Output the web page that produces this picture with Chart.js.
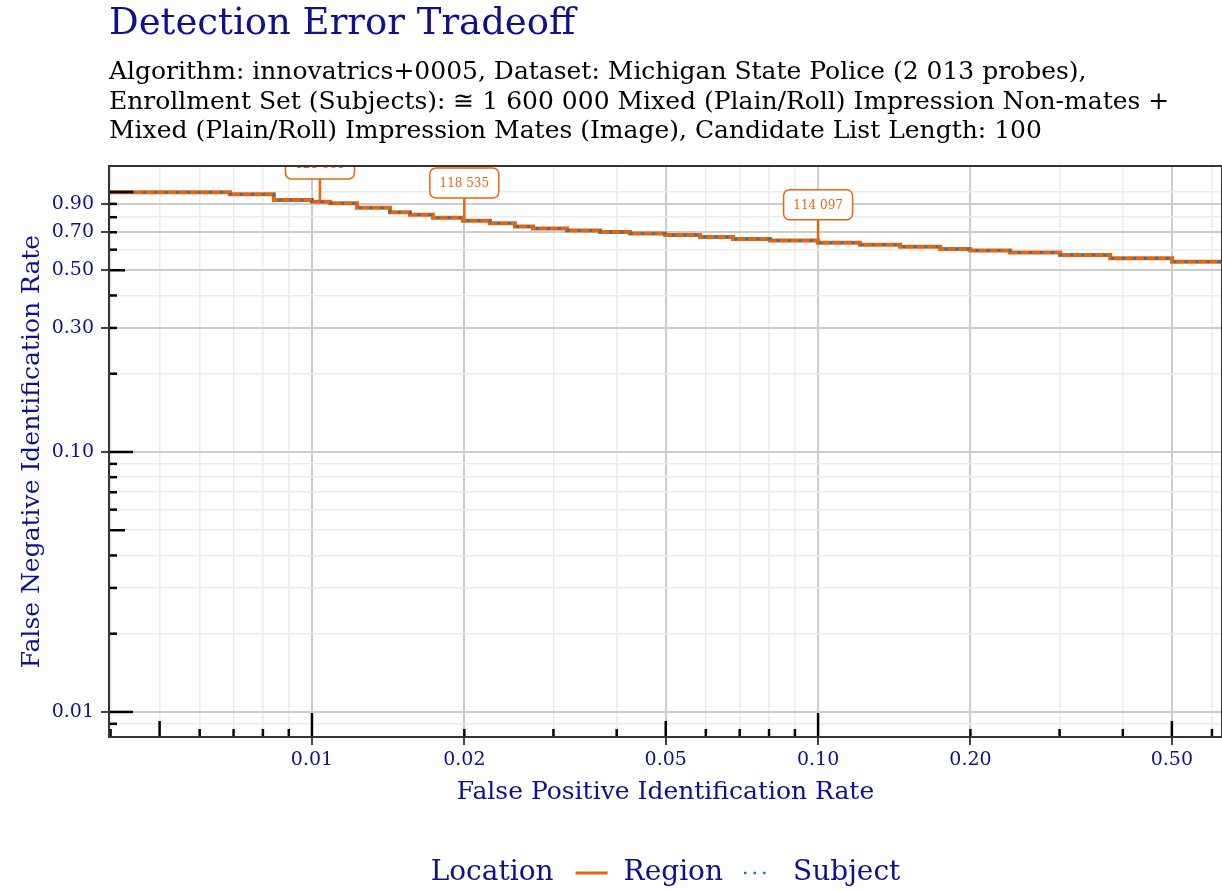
<!DOCTYPE html>
<html>
<head>
<meta charset="utf-8">
<script src="https://cdn.jsdelivr.net/npm/chart.js@4.4.1/dist/chart.umd.min.js"></script>
<style>
  body { margin: 0; background: #fff; }
  #wrap { width: 1222px; height: 892px; }
</style>
</head>
<body>
<div id="wrap"><canvas id="chart" width="1222" height="892"></canvas></div>
<script>
// DET curve (FPIR on x, FNIR on y)
const fpir = [0.00399, 0.00689, 0.00841, 0.0100, 0.01085, 0.01227, 0.01426, 0.01562, 0.01734, 0.01988,
              0.02247, 0.02518, 0.02734, 0.03191, 0.03709, 0.04252, 0.04985, 0.05846, 0.06792, 0.08038,
              0.1000, 0.1210, 0.1452, 0.1742, 0.1997, 0.2395, 0.3008, 0.3777, 0.5006, 0.6287];
const fnir = [0.997, 0.980, 0.932, 0.918, 0.905, 0.870, 0.836, 0.818, 0.796, 0.776,
              0.758, 0.737, 0.724, 0.711, 0.702, 0.692, 0.683, 0.671, 0.660, 0.651,
              0.638, 0.627, 0.616, 0.604, 0.595, 0.585, 0.572, 0.556, 0.539, 0.527];
const seriesNames = ['Region', 'Subject'];

// threshold callouts
const annFpir = [0.01037, 0.0200, 0.1000];
const annFnir = [0.916, 0.774, 0.638];
const annText = ['121 881', '118 535', '114 097'];

const xLabelVals = [0.01, 0.02, 0.05, 0.10, 0.20, 0.50];
const yLabelVals = [0.01, 0.10, 0.30, 0.50, 0.70, 0.90];

const navy = '#10108f';
const orange = '#e8650e';
const blue = '#1f77b4';
const FONT = '"DejaVu Serif", serif';

function logTicks(min, max) {
  const out = [];
  for (let e = -3; e <= 0; e++) {
    for (let m = 1; m <= 9; m++) {
      const v = +(m * Math.pow(10, e)).toPrecision(3);
      if (v >= min && v <= max) out.push(v);
    }
  }
  return out;
}
const isIn = (arr, v) => arr.some(l => Math.abs(l - v) < 1e-9);
const mant = v => +(v / Math.pow(10, Math.floor(Math.log10(v) + 1e-9))).toPrecision(3);

const X_MIN = 0.003972, X_MAX = 0.6281;
const Y_MIN = 0.00801, Y_MAX = 1.259;

const points = fpir.map((v, i) => ({ x: v, y: fnir[i] }));

const extras = {
  id: 'extras',
  afterDatasetsDraw(chart) {
    const { ctx, chartArea: a, scales: { x, y } } = chart;
    ctx.save();
    ctx.beginPath();
    ctx.rect(a.left, a.top, a.right - a.left, a.bottom - a.top);
    ctx.clip();
    // callouts
    annFpir.forEach((fv, i) => {
      const px = x.getPixelForValue(fv), py = y.getPixelForValue(annFnir[i]);
      const bw = 69, bh = 30, by = py - 23 - bh;
      ctx.strokeStyle = orange;
      ctx.lineWidth = 2.5;
      ctx.beginPath(); ctx.moveTo(px, py); ctx.lineTo(px, by + bh); ctx.stroke();
      ctx.beginPath();
      ctx.roundRect(px - bw / 2, by, bw, bh, 6);
      ctx.fillStyle = '#fff'; ctx.fill();
      ctx.lineWidth = 1.5; ctx.stroke();
      ctx.fillStyle = orange;
      ctx.font = '12px ' + FONT;
      ctx.textAlign = 'center'; ctx.textBaseline = 'middle';
      ctx.fillText(annText[i], px, by + bh / 2 + 1);
    });
    // inner tick marks
    ctx.strokeStyle = '#000';
    ctx.lineWidth = 2.5;
    const len = v => { const m = mant(v); return m === 1 ? 24 : m === 5 ? 16 : 8; };
    y.ticks.forEach(t => {
      const py = y.getPixelForValue(t.value);
      ctx.beginPath(); ctx.moveTo(a.left, py); ctx.lineTo(a.left + len(t.value), py); ctx.stroke();
    });
    x.ticks.forEach(t => {
      const px = x.getPixelForValue(t.value);
      ctx.beginPath(); ctx.moveTo(px, a.bottom); ctx.lineTo(px, a.bottom - len(t.value)); ctx.stroke();
    });
    ctx.restore();
    // frame
    ctx.save();
    ctx.strokeStyle = '#333';
    ctx.lineWidth = 2;
    ctx.strokeRect(a.left, a.top, a.right - a.left, a.bottom - a.top);
    ctx.restore();
  },
  afterDraw(chart) {
    // legend
    const { ctx, chartArea: a } = chart;
    ctx.save();
    ctx.font = '28px ' + FONT;
    ctx.textBaseline = 'middle';
    ctx.textAlign = 'left';
    const wLoc = ctx.measureText('Location').width;
    const w1 = ctx.measureText(seriesNames[0]).width;
    const w2 = ctx.measureText(seriesNames[1]).width;
    const total = wLoc + 22 + 32 + 16 + w1 + 21 + 27 + 22 + w2;
    let cx = (a.left + a.right) / 2 - total / 2;
    const ly = 873;
    ctx.fillStyle = navy;
    ctx.fillText('Location', cx, ly); cx += wLoc + 22;
    ctx.strokeStyle = orange; ctx.lineWidth = 3;
    ctx.beginPath(); ctx.moveTo(cx, ly); ctx.lineTo(cx + 32, ly); ctx.stroke(); cx += 32 + 16;
    ctx.fillText(seriesNames[0], cx, ly); cx += w1 + 21;
    ctx.strokeStyle = blue; ctx.lineWidth = 2.5; ctx.setLineDash([2.5, 7]);
    ctx.beginPath(); ctx.moveTo(cx, ly); ctx.lineTo(cx + 27, ly); ctx.stroke(); cx += 27 + 22;
    ctx.setLineDash([]);
    ctx.fillText(seriesNames[1], cx, ly);
    ctx.restore();
  }
};

const gridOpts = labels => ({
  color: c => (c.tick && isIn(labels, c.tick.value)) ? '#cdcdcd' : '#ebebeb',
  lineWidth: c => (c.tick && isIn(labels, c.tick.value)) ? 2 : 1.5,
  tickColor: c => (c.tick && isIn(labels, c.tick.value)) ? '#444' : 'rgba(0,0,0,0)',
  tickLength: 8,
  tickWidth: 2
});

new Chart(document.getElementById('chart').getContext('2d'), {
  type: 'line',
  data: {
    datasets: [{
      label: seriesNames[0],
      data: points,
      borderColor: orange,
      borderWidth: 4,
      stepped: true,
      pointRadius: 0,
      order: 1
    }, {
      label: seriesNames[1],
      data: points,
      borderColor: blue,
      borderWidth: 2.5,
      borderDash: [3, 8],
      stepped: true,
      pointRadius: 0,
      order: 0
    }]
  },
  options: {
    responsive: false,
    animation: false,
    layout: { padding: 0 },
    plugins: {
      legend: { display: false },
      tooltip: { enabled: false },
      title: {
        display: true,
        text: 'Detection Error Tradeoff',
        align: 'start',
        fullSize: false,
        color: navy,
        font: { family: FONT, size: 37, weight: 'normal', lineHeight: '48px' },
        padding: { top: 0, bottom: 0 }
      },
      subtitle: {
        display: true,
        text: [
          'Algorithm: innovatrics+0005, Dataset: Michigan State Police (2 013 probes),',
          'Enrollment Set (Subjects): \u2245 1 600 000 Mixed (Plain/Roll) Impression Non-mates +',
          'Mixed (Plain/Roll) Impression Mates (Image), Candidate List Length: 100'
        ],
        align: 'start',
        fullSize: false,
        color: '#000',
        font: { family: FONT, size: 25, weight: 'normal', lineHeight: '29.5px' },
        padding: { top: 10, bottom: 19.5 }
      }
    },
    scales: {
      x: {
        type: 'logarithmic',
        min: X_MIN,
        max: X_MAX,
        afterBuildTicks: s => { s.ticks = logTicks(X_MIN, X_MAX).map(v => ({ value: v })); },
        afterFit: s => { s.height = 155; },
        border: { display: false },
        grid: gridOpts(xLabelVals),
        ticks: {
          autoSkip: false,
          maxRotation: 0,
          padding: 4,
          color: navy,
          font: { family: FONT, size: 19 },
          callback: v => isIn(xLabelVals, v) ? v.toFixed(2) : ''
        },
        title: {
          display: true,
          text: 'False Positive Identification Rate',
          color: navy,
          font: { family: FONT, size: 25, lineHeight: 1.2 },
          padding: { top: 0, bottom: 85 }
        }
      },
      y: {
        type: 'logarithmic',
        min: Y_MIN,
        max: Y_MAX,
        afterBuildTicks: s => { s.ticks = logTicks(Y_MIN, Y_MAX).map(v => ({ value: v })); },
        afterFit: s => { s.width = 109; },
        border: { display: false },
        grid: gridOpts(yLabelVals),
        ticks: {
          autoSkip: false,
          padding: 7,
          color: navy,
          font: { family: FONT, size: 19 },
          callback: v => isIn(yLabelVals, v) ? v.toFixed(2) : ''
        },
        title: {
          display: true,
          text: 'False Negative Identification Rate',
          color: navy,
          font: { family: FONT, size: 25, lineHeight: 1.2 },
          padding: { top: 17, bottom: 0 }
        }
      }
    }
  },
  plugins: [extras]
});
</script>
</body>
</html>
